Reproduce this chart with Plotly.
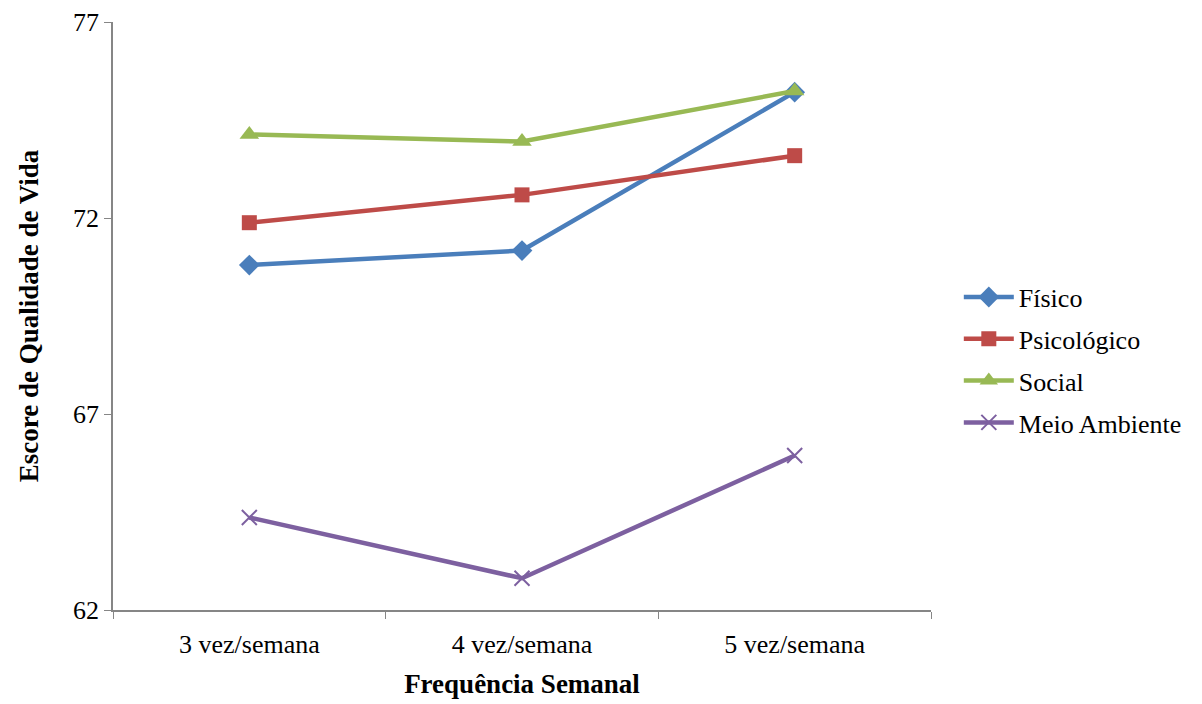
import plotly.graph_objects as go

categories = ["3 vez/semana", "4 vez/semana", "5 vez/semana"]
fisico = [70.80, 71.17, 75.21]
psicologico = [71.88, 72.59, 73.59]
social = [74.13, 73.95, 75.24]
meio_ambiente = [64.36, 62.81, 65.94]
y_ticks = [62, 67, 72, 77]

series = [
    ("Físico", fisico, "#4A7EBB", "diamond", 16),
    ("Psicológico", psicologico, "#BE4B48", "square", 15),
    ("Social", social, "#98B954", "triangle-up", 17),
    ("Meio Ambiente", meio_ambiente, "#7D60A0", "x-thin", 15),
]

fig = go.Figure()
for name, vals, color, symbol, size in series:
    marker = dict(symbol=symbol, size=size, color=color,
                  line=dict(width=2 if symbol == "x-thin" else 0, color=color))
    fig.add_trace(go.Scatter(
        x=categories, y=vals, name=name, mode="lines+markers",
        legendgroup=name,
        line=dict(color=color, width=4.5), marker=marker,
    ))

font = "Liberation Serif, Times New Roman, serif"
fig.update_layout(
    width=1202, height=704,
    margin=dict(l=113, r=271, t=22, b=94, autoexpand=False),
    paper_bgcolor="white", plot_bgcolor="white",
    font=dict(family=font, size=26, color="black"),
    showlegend=True,
    legend=dict(x=1.034, y=0.425, xanchor="left", yanchor="middle",
                font=dict(size=26), itemwidth=50, tracegroupgap=5,
                bgcolor="rgba(0,0,0,0)"),
    xaxis=dict(
        type="category", range=[-0.5, 2.5], automargin=False,
        showline=True, linecolor="#868686", linewidth=1.5,
        ticks="outside", tickson="boundaries", ticklen=7, tickcolor="#868686",
        ticklabelstandoff=10,
        showgrid=False, zeroline=False,
        title=dict(text="<b>Frequência Semanal</b>", font=dict(size=27), standoff=16),
        tickfont=dict(size=26),
    ),
    yaxis=dict(
        range=[62, 77], tickvals=y_ticks, automargin=False,
        showline=True, linecolor="#868686", linewidth=1.5,
        ticks="outside", ticklen=7, tickcolor="#868686",
        showgrid=False, zeroline=False,
        title=dict(text="<b>Escore de Qualidade de Vida</b>", font=dict(size=27), standoff=27),
        tickfont=dict(size=26),
    ),
)

fig.write_html("out.html")
